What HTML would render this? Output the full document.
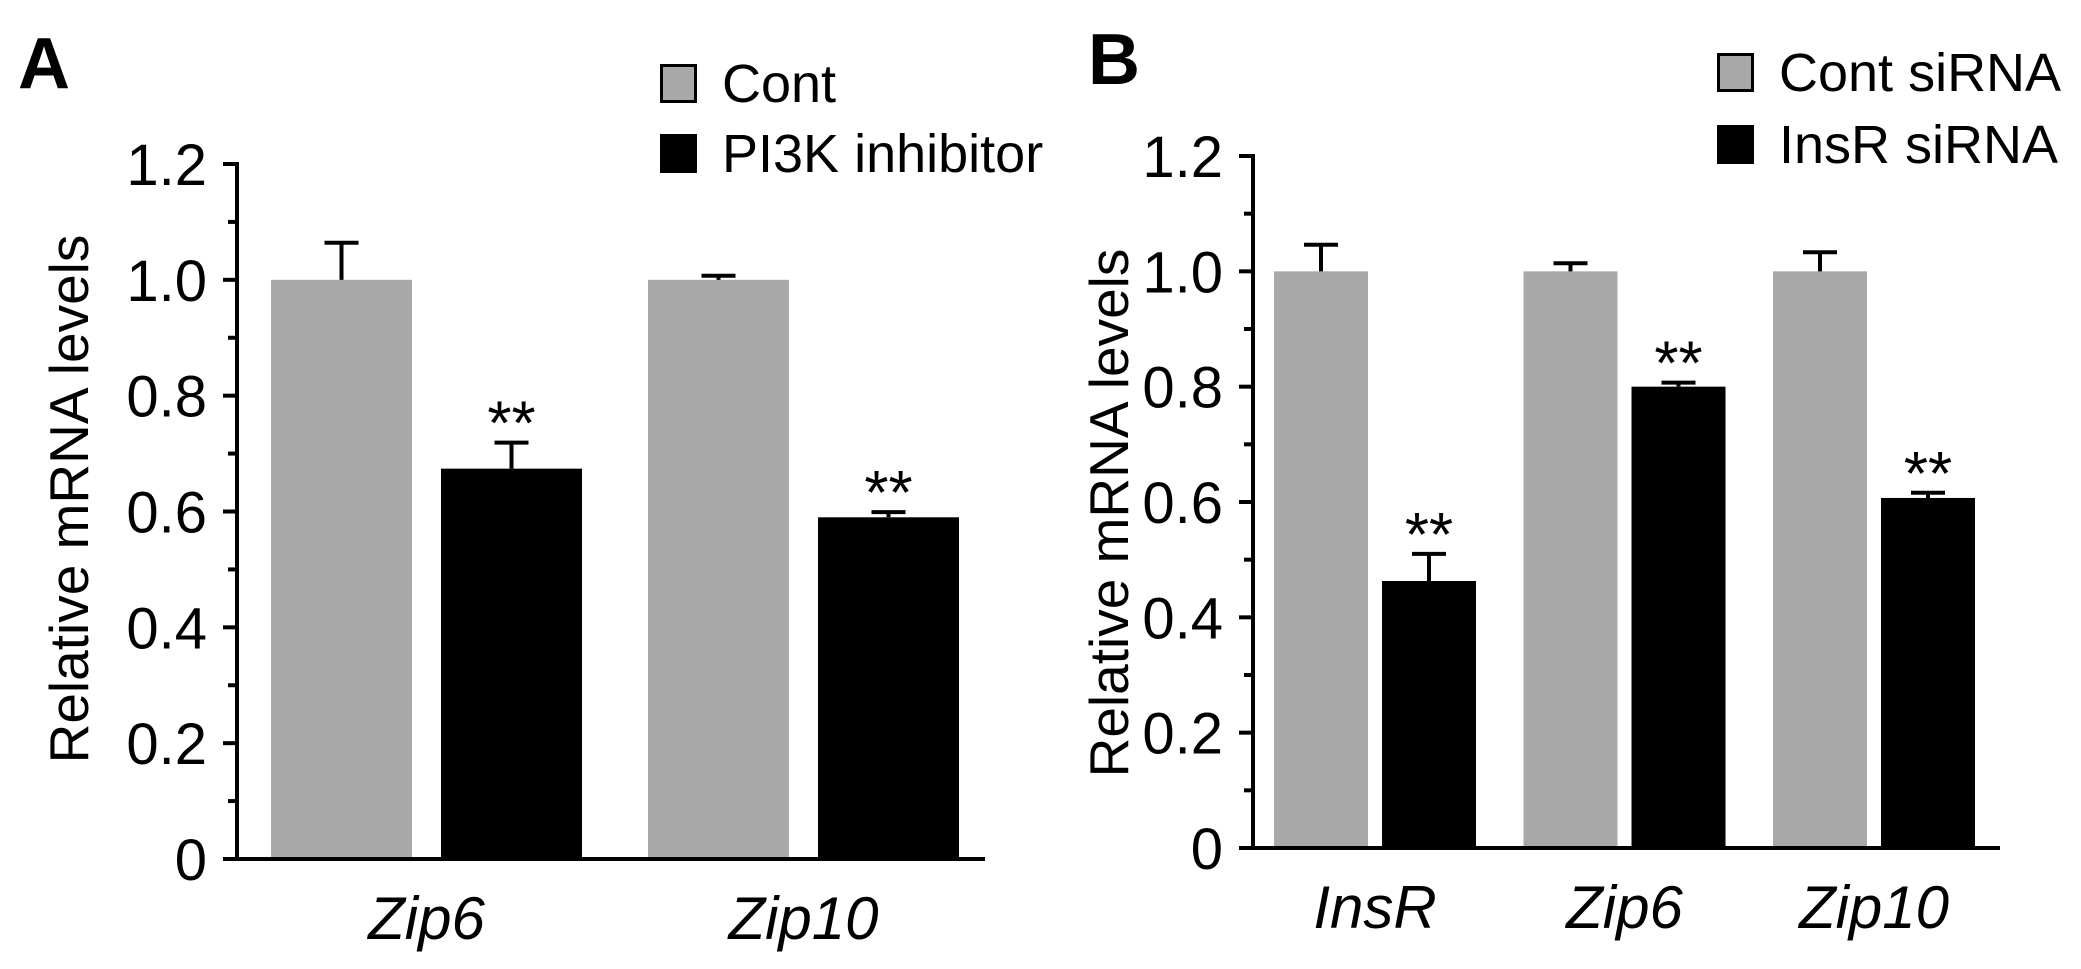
<!DOCTYPE html>
<html><head><meta charset="utf-8"><style>
html,body{margin:0;padding:0;background:#fff}
svg{display:block;font-family:"Liberation Sans",Arial,sans-serif}
</style></head><body>
<svg id="fig" width="2081" height="969" viewBox="0 0 2081 969" xmlns="http://www.w3.org/2000/svg"></svg>
<script>
const catsA = ["Zip6", "Zip10"];
const contA = [1.0, 1.0];
const contErrA = [0.064, 0.007];
const treatA = [0.674, 0.590];
const treatErrA = [0.045, 0.009];
const catsB = ["InsR", "Zip6", "Zip10"];
const contB = [1.0, 1.0, 1.0];
const contErrB = [0.046, 0.014, 0.033];
const treatB = [0.463, 0.800, 0.607];
const treatErrB = [0.047, 0.007, 0.009];
const yTicks = [0, 0.2, 0.4, 0.6, 0.8, 1.0, 1.2];
const yTickLabels = ["0", "0.2", "0.4", "0.6", "0.8", "1.0", "1.2"];

const NS = "http://www.w3.org/2000/svg";
const svg = document.getElementById("fig");
function mk(tag, attrs, parent, text){
  const e = document.createElementNS(NS, tag);
  for (const k in attrs) e.setAttribute(k, attrs[k]);
  if (text !== undefined) e.textContent = text;
  (parent || svg).appendChild(e);
  return e;
}

function panel(cfg){
  const g = mk("g", {});
  
  
  const y = v => cfg.y0 - v / 1.2 * (cfg.y0 - cfg.y12);
  cfg.cats.forEach((c, i) => {
    const gx = cfg.start + i * cfg.period;
    const x1 = gx, x2 = gx + cfg.bw + cfg.gap;
    const b1 = mk("rect", {x: x1, y: y(cfg.cont[i]), width: cfg.bw, height: y(0) - y(cfg.cont[i]), fill: "#a9a9a9"}, g);
    
    
    const b2 = mk("rect", {x: x2, y: y(cfg.treat[i]), width: cfg.bw, height: y(0) - y(cfg.treat[i]), fill: "#000"}, g);
    
    
    [[x1, cfg.cont[i], cfg.contErr[i]], [x2, cfg.treat[i], cfg.treatErr[i]]].forEach((d, j) => {
      const cx = d[0] + cfg.bw / 2, top = y(d[1] + d[2]);
      const eb = mk("path", {d: `M${cx} ${y(d[1])}V${top}M${cx-17} ${top}H${cx+17}`, stroke: "#000", "stroke-width": 4, fill: "none"}, g);
      
      
      if (j === 1) {
        const st = mk("text", {x: cx, y: top + 2, "font-size": 62, "text-anchor": "middle"}, g, "**");
        
        
      }
    });
    const lbl = mk("text", {x: gx + cfg.bw + cfg.gap / 2, y: cfg.y0 + 80, "font-size": 60, "font-style": "italic", "text-anchor": "middle"}, g, c);
    
    
  });
  const ax = mk("path", {d: `M${cfg.ax} ${cfg.y12-2}V${cfg.y0}M${cfg.ax-14} ${cfg.y0}H${cfg.xEnd}`, stroke: "#000", "stroke-width": 4, fill: "none"}, g);
  
  
  yTicks.forEach((t, i) => {
    const tk = mk("path", {d: `M${cfg.ax-14} ${y(t)}H${cfg.ax}`, stroke: "#000", "stroke-width": 4}, g);
    
    
    if (i < yTicks.length - 1) {
      const mt = mk("path", {d: `M${cfg.ax-9} ${y(t + 0.1)}H${cfg.ax}`, stroke: "#000", "stroke-width": 4}, g);
      
      
    }
    const tl = mk("text", {x: cfg.ax - 30, y: y(t) + 21, "font-size": 58, "text-anchor": "end"}, g, yTickLabels[i]);
    
    
  });
  const yt = mk("text", {x: 0, y: 0, "font-size": 55, "text-anchor": "middle", transform: `translate(${cfg.titleX},${cfg.titleY}) rotate(-90)`}, g, "Relative mRNA levels");
  
  
  const pl = mk("text", {x: cfg.letterX, y: cfg.letterY, "font-size": 72, "font-weight": "bold"}, g, cfg.letter);
  
  
  cfg.legend.forEach((L, i) => {
    const r = mk("rect", {x: cfg.lx + 1.5, y: cfg.ly[i] + 1.5, width: 34, height: 36, fill: i ? "#000" : "#a9a9a9", stroke: "#000", "stroke-width": 3}, g);
    
    
    const lt = mk("text", {x: cfg.lx + 62, y: cfg.ly[i] + 38, "font-size": 54}, g, L);
    
    
  });
}

panel({id: "panel-a", cats: catsA, cont: contA, contErr: contErrA, treat: treatA, treatErr: treatErrA,
  y0: 859, y12: 164, ax: 237, xEnd: 985, start: 271, period: 377, bw: 141, gap: 29,
  titleX: 88, titleY: 499, letter: "A", letterX: 18, letterY: 88,
  lx: 660, ly: [64, 134], legend: ["Cont", "PI3K inhibitor"]});
panel({id: "panel-b", cats: catsB, cont: contB, contErr: contErrB, treat: treatB, treatErr: treatErrB,
  y0: 848, y12: 156, ax: 1253, xEnd: 2000, start: 1274, period: 249.5, bw: 94, gap: 14,
  titleX: 1128, titleY: 513, letter: "B", letterX: 1088, letterY: 84,
  lx: 1717, ly: [53, 125], legend: ["Cont siRNA", "InsR siRNA"]});
</script>
</body></html>
